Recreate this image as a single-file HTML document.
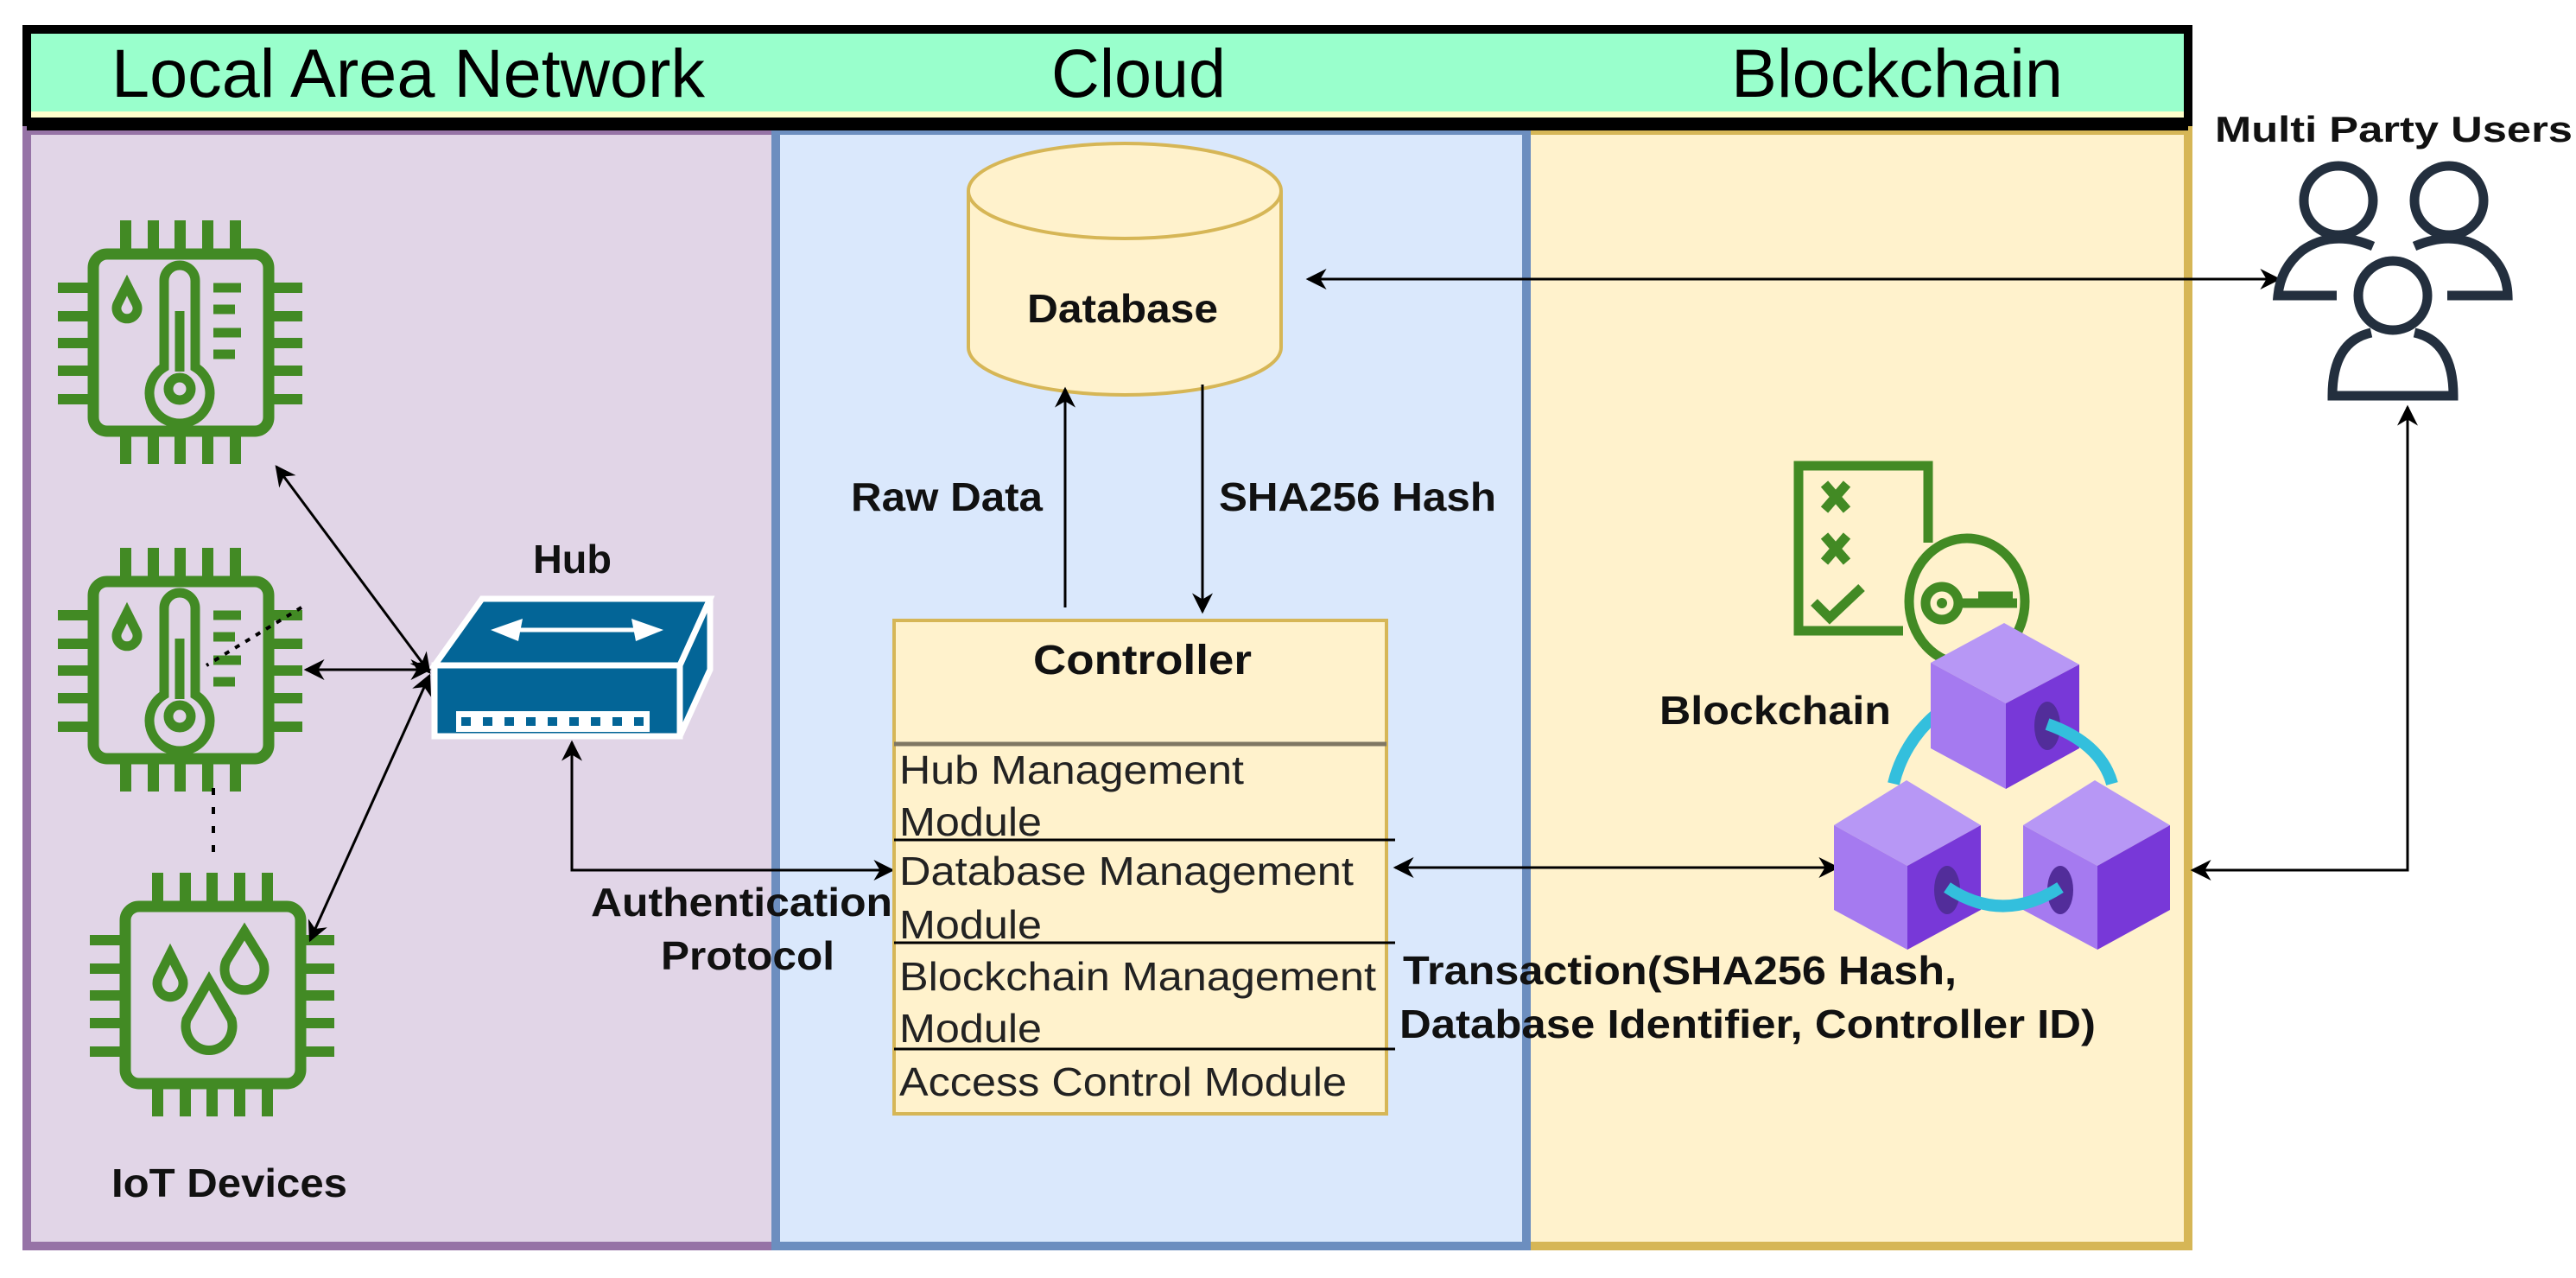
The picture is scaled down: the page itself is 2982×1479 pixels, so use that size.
<!DOCTYPE html>
<html><head><meta charset="utf-8"><style>
html,body{margin:0;padding:0;background:#fff;}
svg{display:block;}
text{font-family:"Liberation Sans",Arial,sans-serif;}
.b{font-weight:bold;fill:#111;}
</style></head><body>
<svg width="2982" height="1479" viewBox="0 0 2982 1479" xmlns="http://www.w3.org/2000/svg">
<defs>
<marker id="ah" viewBox="0 0 10 10" refX="9" refY="5" markerWidth="24" markerHeight="24" markerUnits="userSpaceOnUse" orient="auto-start-reverse">
<path d="M0,0 L10,5 L0,10 L3,5 z" fill="#000"/>
</marker>
<g id="chipbase" fill="#428a24">
<rect x="108" y="294" width="203" height="205" rx="16" fill="none" stroke="#428a24" stroke-width="13"/>
<rect x="139" y="255" width="13" height="34"/><rect x="171" y="255" width="13" height="34"/><rect x="202" y="255" width="13" height="34"/><rect x="234" y="255" width="13" height="34"/><rect x="266" y="255" width="13" height="34"/>
<rect x="139" y="504" width="13" height="33"/><rect x="171" y="504" width="13" height="33"/><rect x="202" y="504" width="13" height="33"/><rect x="234" y="504" width="13" height="33"/><rect x="266" y="504" width="13" height="33"/>
<rect x="67" y="327" width="36" height="12"/><rect x="67" y="360" width="36" height="12"/><rect x="67" y="391" width="36" height="12"/><rect x="67" y="423" width="36" height="12"/><rect x="67" y="456" width="36" height="12"/>
<rect x="316" y="327" width="34" height="12"/><rect x="316" y="360" width="34" height="12"/><rect x="316" y="391" width="34" height="12"/><rect x="316" y="423" width="34" height="12"/><rect x="316" y="456" width="34" height="12"/>
</g>
<g id="thermo" fill="none" stroke="#428a24" stroke-width="11">
<path d="M147,330 L136,352 A12,12 0 1 0 158,352 Z"/>
<path d="M190,425 L190,325 A18,18 0 0 1 226,325 L226,425 A35,35 0 1 1 190,425 Z"/>
<path d="M208,360 L208,430"/>
<circle cx="208" cy="450" r="13"/>
<path d="M247,333 H279 M247,358 H272 M247,385 H279 M247,410 H272"/>
</g>
</defs>

<!-- header -->
<rect x="31" y="34" width="2502" height="107" fill="#99ffcc" stroke="#000" stroke-width="10"/>
<rect x="36" y="129" width="2492" height="7" fill="#ffffcc"/>
<text x="129" y="112" font-size="79" textLength="687" lengthAdjust="spacingAndGlyphs">Local Area Network</text>
<text x="1217" y="112" font-size="79" textLength="202" lengthAdjust="spacingAndGlyphs">Cloud</text>
<text x="2004" y="112" font-size="79" textLength="384" lengthAdjust="spacingAndGlyphs">Blockchain</text>

<!-- lanes -->
<rect x="31" y="151" width="867" height="1291" fill="#e1d5e7" stroke="#9673a6" stroke-width="10"/>
<rect x="1767" y="151" width="766" height="1291" fill="#fff2cc" stroke="#d6b656" stroke-width="10"/>
<rect x="898" y="151" width="869" height="1291" fill="#dae8fc" stroke="#6c8ebf" stroke-width="10"/>
<rect x="31" y="141" width="2502" height="10" fill="#000"/>

<!-- chips -->
<use href="#chipbase"/>
<use href="#thermo"/>
<use href="#chipbase" transform="translate(0,379)"/>
<use href="#thermo" transform="translate(0,379)"/>
<use href="#chipbase" transform="translate(37,755)"/>
<g fill="none" stroke="#428a24" stroke-width="11">
<path d="M197,1104 L183,1132 A15,16 0 1 0 211,1132 Z"/>
<path d="M283,1078 L262,1112 A23,24 0 1 0 304,1112 Z"/>
<path d="M242,1135 L216,1180 A27,28 0 1 0 268,1180 Z"/>
</g>
<path d="M247,912 L247,1000" stroke="#000" stroke-width="4" stroke-dasharray="8,14"/>
<path d="M349,703 L239,770" stroke="#000" stroke-width="4" stroke-dasharray="6,8"/>

<!-- hub -->
<g>
<path d="M558,693 L822,693 L787,770 L503,770 Z" fill="#036597" stroke="#fff" stroke-width="7"/>
<path d="M787,770 L822,693 L822,775 L787,852 Z" fill="#036597" stroke="#fff" stroke-width="7"/>
<rect x="503" y="770" width="284" height="82" fill="#036597" stroke="#fff" stroke-width="7"/>
<path d="M600,729 L760,729" stroke="#fff" stroke-width="5"/>
<path d="M568,729 L605,716 L600,742 Z M768,729 L731,716 L736,742 Z" fill="#fff"/>
<rect x="528" y="823" width="224" height="24" fill="#fff"/>
<g fill="#036597"><rect x="534" y="830" width="11" height="10"/><rect x="559" y="830" width="11" height="10"/><rect x="584" y="830" width="11" height="10"/><rect x="609" y="830" width="11" height="10"/><rect x="634" y="830" width="11" height="10"/><rect x="659" y="830" width="11" height="10"/><rect x="684" y="830" width="11" height="10"/><rect x="709" y="830" width="11" height="10"/><rect x="734" y="830" width="11" height="10"/></g>
</g>
<text class="b" x="617" y="663" font-size="46" textLength="91" lengthAdjust="spacingAndGlyphs">Hub</text>

<g stroke="#000" stroke-width="3" fill="none">
<path d="M497,778 L320,540" marker-start="url(#ah)" marker-end="url(#ah)"/>
<path d="M497,775 L354,775" marker-start="url(#ah)" marker-end="url(#ah)"/>
<path d="M497,782 L359,1088" marker-start="url(#ah)" marker-end="url(#ah)"/>
<path d="M662,859 L662,1007 L1033,1007" marker-start="url(#ah)" marker-end="url(#ah)"/>
</g>
<text class="b" x="129" y="1385" font-size="46" textLength="273" lengthAdjust="spacingAndGlyphs">IoT Devices</text>
<text class="b" x="684" y="1060" font-size="46" textLength="349" lengthAdjust="spacingAndGlyphs">Authentication</text>
<text class="b" x="765" y="1122" font-size="46" textLength="201" lengthAdjust="spacingAndGlyphs">Protocol</text>

<!-- database -->
<path d="M1121,221 L1121,402 A181,55 0 0 0 1483,402 L1483,221" fill="#fff2cc" stroke="#d6b656" stroke-width="4"/>
<ellipse cx="1302" cy="221" rx="181" ry="55" fill="#fff2cc" stroke="#d6b656" stroke-width="4"/>
<text class="b" x="1189" y="373" font-size="46" textLength="221" lengthAdjust="spacingAndGlyphs">Database</text>

<g stroke="#000" stroke-width="3" fill="none">
<path d="M1233,703 L1233,450" marker-end="url(#ah)"/>
<path d="M1392,445 L1392,708" marker-end="url(#ah)"/>
<path d="M1514,323 L2638,323" marker-start="url(#ah)" marker-end="url(#ah)"/>
<path d="M1615,1004 L2127,1004" marker-start="url(#ah)" marker-end="url(#ah)"/>
<path d="M2787,471 L2787,1007 L2538,1007" marker-start="url(#ah)" marker-end="url(#ah)"/>
</g>
<text class="b" x="985" y="591" font-size="46" textLength="222" lengthAdjust="spacingAndGlyphs">Raw Data</text>
<text class="b" x="1411" y="591" font-size="46" textLength="321" lengthAdjust="spacingAndGlyphs">SHA256 Hash</text>

<!-- controller -->
<rect x="1035" y="718" width="570" height="571" fill="#fff2cc" stroke="#d6b656" stroke-width="4"/>
<path d="M1035,861 L1605,861" stroke="#7f7763" stroke-width="5"/>
<path d="M1035,972 L1615,972 M1035,1091 L1615,1091 M1035,1214 L1615,1214" stroke="#000" stroke-width="3"/>
<text class="b" x="1196" y="780" font-size="48" textLength="253" lengthAdjust="spacingAndGlyphs">Controller</text>
<g font-size="46" fill="#222">
<text x="1041" y="907" textLength="399" lengthAdjust="spacingAndGlyphs">Hub Management</text>
<text x="1041" y="967" textLength="165" lengthAdjust="spacingAndGlyphs">Module</text>
<text x="1041" y="1024" textLength="526" lengthAdjust="spacingAndGlyphs">Database Management</text>
<text x="1041" y="1086" textLength="165" lengthAdjust="spacingAndGlyphs">Module</text>
<text x="1041" y="1146" textLength="552" lengthAdjust="spacingAndGlyphs">Blockchain Management</text>
<text x="1041" y="1206" textLength="165" lengthAdjust="spacingAndGlyphs">Module</text>
<text x="1041" y="1268" textLength="518" lengthAdjust="spacingAndGlyphs">Access Control Module</text>
</g>
<text class="b" x="1624" y="1139" font-size="46" textLength="641" lengthAdjust="spacingAndGlyphs">Transaction(SHA256 Hash,</text>
<text class="b" x="1620" y="1201" font-size="46" textLength="806" lengthAdjust="spacingAndGlyphs">Database Identifier, Controller ID)</text>

<!-- checklist + key -->
<g fill="none" stroke="#428a24" stroke-width="11">
<path d="M2232,628 L2232,539 L2082,539 L2082,730 L2203,730"/>
<path d="M2112,560 L2138,590 M2138,560 L2112,590 M2112,620 L2138,650 M2138,620 L2112,650"/>
<path d="M2100,697 L2118,715 L2155,680"/>
<ellipse cx="2277" cy="696" rx="67" ry="73"/>
<circle cx="2248" cy="698" r="19"/>
<path d="M2267,698 L2335,698 M2290,690 H2330"/>
</g>
<circle cx="2248" cy="698" r="6" fill="#428a24"/>
<text class="b" x="1921" y="838" font-size="46" textLength="268" lengthAdjust="spacingAndGlyphs">Blockchain</text>

<!-- cubes -->
<path d="M2192,907 A150,150 0 0 1 2240,828" fill="none" stroke="#33bfdd" stroke-width="14"/>
<g>
<path d="M2235,767 L2320,721 L2407,769 L2322,814 Z" fill="#b797f5"/>
<path d="M2235,767 L2322,814 L2322,913 L2235,866 Z" fill="#a57af0"/>
<path d="M2322,814 L2407,769 L2407,866 L2322,913 Z" fill="#7838d8"/>
<ellipse cx="2370" cy="840" rx="15" ry="28" fill="#522d9a"/>
</g>
<path d="M2370,838 Q2432,860 2445,907" fill="none" stroke="#33bfdd" stroke-width="14"/>
<g>
<path d="M2123,955 L2207,903 L2293,955 L2208,1002 Z" fill="#b797f5"/>
<path d="M2123,955 L2208,1002 L2208,1099 L2123,1053 Z" fill="#a57af0"/>
<path d="M2208,1002 L2293,955 L2293,1053 L2208,1099 Z" fill="#7838d8"/>
<ellipse cx="2254" cy="1030" rx="15" ry="28" fill="#522d9a"/>
</g>
<g>
<path d="M2342,955 L2425,903 L2512,955 L2428,1002 Z" fill="#b797f5"/>
<path d="M2342,955 L2428,1002 L2428,1099 L2342,1053 Z" fill="#a57af0"/>
<path d="M2428,1002 L2512,955 L2512,1053 L2428,1099 Z" fill="#7838d8"/>
<ellipse cx="2385" cy="1030" rx="15" ry="28" fill="#522d9a"/>
</g>
<path d="M2254,1027 Q2318,1070 2385,1027" fill="none" stroke="#33bfdd" stroke-width="14"/>

<!-- users -->
<text class="b" x="2564" y="164" font-size="42" textLength="414" lengthAdjust="spacingAndGlyphs">Multi Party Users</text>
<g fill="none" stroke="#232f3e" stroke-width="11">
<circle cx="2707" cy="232" r="40"/>
<circle cx="2835" cy="232" r="40"/>
<circle cx="2770" cy="342" r="40"/>
<path d="M2747,285 Q2700,265 2665,290 Q2640,310 2637,342 L2705,342"/>
<path d="M2795,285 Q2842,265 2877,290 Q2902,310 2903,342 L2833,342"/>
<path d="M2745,385 Q2700,395 2700,458 L2840,458 Q2840,395 2795,385"/>
</g>
</svg>
</body></html>
